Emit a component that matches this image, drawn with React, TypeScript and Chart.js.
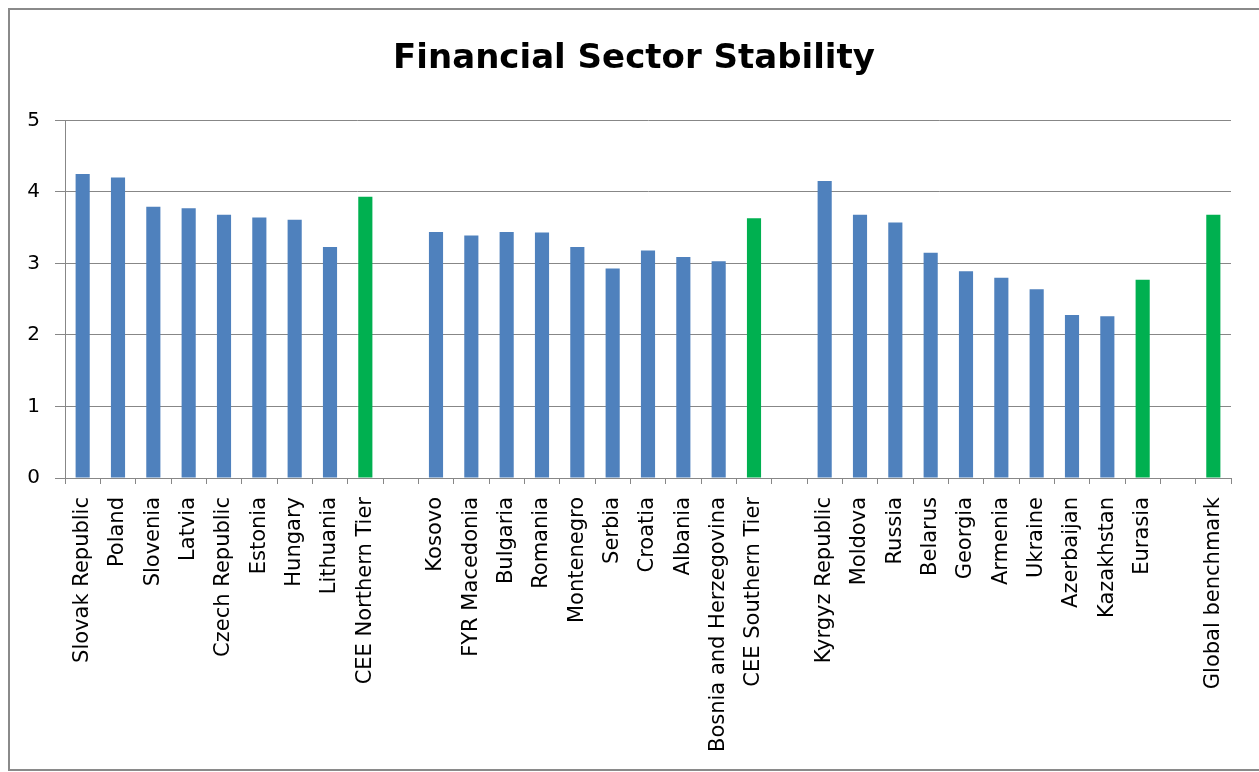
import React, { useEffect, useRef } from "react";
import { Chart, registerables } from "chart.js";

Chart.register(...registerables);

const TITLE = "Financial Sector Stability";

const categories: string[] = [
  "Slovak Republic", "Poland", "Slovenia", "Latvia", "Czech Republic", "Estonia", "Hungary", "Lithuania", "CEE Northern Tier",
  "",
  "Kosovo", "FYR Macedonia", "Bulgaria", "Romania", "Montenegro", "Serbia", "Croatia", "Albania", "Bosnia and Herzegovina", "CEE Southern Tier",
  "",
  "Kyrgyz Republic", "Moldova", "Russia", "Belarus", "Georgia", "Armenia", "Ukraine", "Azerbaijan", "Kazakhstan", "Eurasia",
  "",
  "Global benchmark",
];

const values: (number | null)[] = [
  4.25, 4.2, 3.79, 3.77, 3.68, 3.64, 3.61, 3.23, 3.93,
  null,
  3.44, 3.39, 3.44, 3.43, 3.23, 2.93, 3.18, 3.09, 3.03, 3.63,
  null,
  4.15, 3.68, 3.57, 3.15, 2.89, 2.8, 2.64, 2.28, 2.26, 2.77,
  null,
  3.68,
];

const aggregates: string[] = ["CEE Northern Tier", "CEE Southern Tier", "Eurasia", "Global benchmark"];

const yTicks: number[] = [0, 1, 2, 3, 4, 5];

const BLUE = "#4F81BD";
const GREEN = "#00B050";
const GRID = "#878787";
const FONT = "'DejaVu Sans', sans-serif";

export default function App() {
  const canvasRef = useRef<HTMLCanvasElement | null>(null);

  useEffect(() => {
    const canvas = canvasRef.current;
    if (!canvas) return;
    const colors = categories.map((c) => (aggregates.includes(c) ? GREEN : BLUE));
    const chart = new Chart(canvas, {
      type: "bar",
      data: {
        labels: categories,
        datasets: [
          {
            data: values,
            backgroundColor: colors,
            borderColor: colors,
            borderWidth: 0,
            barPercentage: 0.4,
            categoryPercentage: 1,
          },
        ],
      },
      options: {
        responsive: false,
        animation: false,
        layout: { padding: { left: 37, right: 28, top: 0, bottom: 0 } },
        plugins: {
          legend: { display: false },
          tooltip: { enabled: false },
          title: {
            display: true,
            text: TITLE,
            color: "#000",
            font: { family: FONT, size: 34, weight: "bold", lineHeight: 1.2 },
            padding: { top: 39, bottom: 40.5 },
          },
        },
        scales: {
          x: {
            grid: {
              offset: true,
              drawOnChartArea: false,
              drawTicks: true,
              tickLength: 6,
              color: GRID,
            },
            border: { color: GRID, width: 1 },
            ticks: {
              autoSkip: false,
              minRotation: 90,
              maxRotation: 90,
              padding: 13,
              color: "#000",
              font: { family: FONT, size: 21 },
            },
            afterFit: (scale: any) => {
              scale.height = 294;
            },
          },
          y: {
            min: 0,
            max: 5,
            afterBuildTicks: (scale: any) => {
              scale.ticks = yTicks.map((v) => ({ value: v }));
            },
            grid: {
              color: GRID,
              tickLength: 10,
              drawTicks: true,
            },
            border: { color: GRID, width: 1 },
            ticks: {
              padding: 15,
              color: "#000",
              font: { family: FONT, size: 20 },
            },
            afterFit: (scale: any) => {
              scale.width = 28;
              // let the tick labels draw into the layout padding on the left
              scale._computeLabelArea = () => undefined;
            },
          },
        },
      },
    });
    return () => chart.destroy();
  }, []);

  return (
    <div>
      <div
        style={{
          position: "fixed",
          left: 0,
          top: 0,
          width: 1259,
          height: 772,
          background: "#fff",
        }}
      >
        <canvas ref={canvasRef} width={1259} height={772} style={{ width: 1259, height: 772, display: "block" }} />
      </div>
      <div
        style={{
          position: "fixed",
          left: 8,
          top: 8,
          width: 1262,
          height: 763,
          border: "2px solid #8a8a8a",
          boxSizing: "border-box",
          pointerEvents: "none",
        }}
      />
    </div>
  );
}
